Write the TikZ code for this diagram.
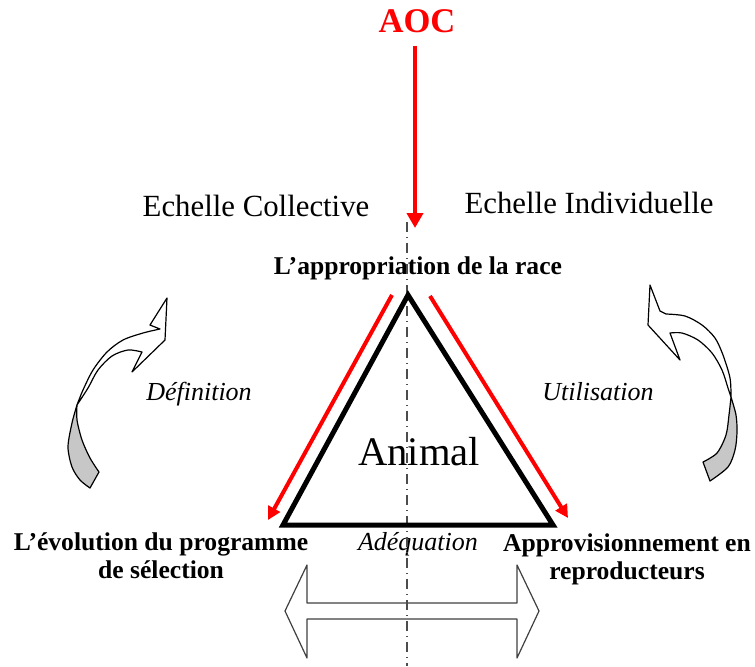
\documentclass[tikz,border=0pt]{standalone}
\usepackage{fontspec}
\setmainfont{Liberation Serif}
\usetikzlibrary{arrows.meta}

\begin{document}
\begin{tikzpicture}[x=0.5pt,y=-0.5pt]
	\useasboundingbox (0,0) rectangle (755,666);
	\begin{scope}[color=black]
		\tikzstyle{every node}=[inner sep=0pt,anchor=base,align=center]
		\tikzstyle{gras}=[font=\fontsize{12.8}{14}\selectfont\bfseries]
		\tikzstyle{echelle}=[font=\fontsize{15.4}{18}\selectfont]
		\tikzstyle{flux}=[font=\fontsize{13}{15}\selectfont\itshape]
		\tikzstyle{rouge}=[draw=red,line width=2pt,-{Triangle[length=6.5pt,width=6.5pt]}]
		\tikzstyle{face}=[draw=black,fill=white,line width=0.6pt,line join=round]
		\tikzstyle{dos}=[draw=black,fill=black!22,line width=0.6pt,line join=round]
		% sommets et points
		\coordinate (haut) at (408,295);
		\coordinate (gauche) at (283,525);
		\coordinate (droite) at (553,525);
		\coordinate (pointe) at (415,228);
		\coordinate (r1) at (392,295);
		\coordinate (r1b) at (268,520);
		\coordinate (r2) at (430,296);
		\coordinate (r2b) at (568,518);
		\coordinate (axe) at (407,222);
		\coordinate (axebas) at (407,666);
		% textes
		\node[font=\fontsize{17.3}{20}\selectfont\bfseries,text=red] (aoc) at (417,32) {AOC};
		\node[echelle] (coll) at (256,216) {Echelle Collective};
		\node[echelle] (indiv) at (589,213) {Echelle Individuelle};
		\node[gras] (race) at (418,274) {L'appropriation de la race};
		\node[font=\fontsize{20.3}{24}\selectfont] (animal) at (419,465) {Animal};
		\foreach \t/\x/\n in {Définition/199/def,Utilisation/598/util}
		{\node[flux] (\n) at (\x,400) {\t};}
		\node[flux] (adeq) at (418,550) {Adéquation};
		\node[gras] (evol) at (161,578) {L'évolution du programme\\de sélection};
		\node[gras] (appro) at (627,579) {Approvisionnement en\\reproducteurs};
		% fleches courbes
		\filldraw[dos] plot[smooth] coordinates {(90,488) (80,480) (72,467) (68,447) (72,423) (77,405)}
			-- plot[smooth] coordinates {(77,405) (77,420) (82,440) (90,458) (99,472)} -- cycle;
		\filldraw[face] plot[smooth] coordinates {(77,405) (83,390) (93,370) (107,352) (123,340) (143,333) (160,329)}
			-- (150,325) -- (167,298) -- (165,340) -- (132,372) -- (142,352)
			-- plot[smooth] coordinates {(142,352) (128,350) (112,356) (98,370) (88,388) (77,405)} -- cycle;
		\filldraw[dos] plot[smooth] coordinates {(710,481) (728,467) (735,450) (737,432) (736,415) (731,397)}
			-- plot[smooth] coordinates {(731,397) (729,415) (726,435) (717,453) (703,462)} -- cycle;
		\filldraw[face] plot[smooth] coordinates {(731,397) (730,378) (723,355) (715,338) (702,325) (685,316) (666,314)}
			-- (660,311) -- (650,285) -- (648,325) -- (680,360) -- (670,333)
			-- plot[smooth] coordinates {(670,333) (682,333) (698,340) (712,353) (722,370) (728,388) (731,397)} -- cycle;
		% double fleche
		\draw[face,draw=black!75] (285,611) -- (307,565) -- (307,603) -- (517,603) -- (517,565)
			-- (539,611) -- (517,658) -- (517,619) -- (307,619) -- (307,658) -- cycle;
		\draw[black!70,line width=0.7pt,dash pattern=on 5pt off 2.5pt on 0.5pt off 2.5pt] (axe) -- (axebas);
		% triangle
		\draw[line width=2.5pt,line join=miter] (haut) -- (gauche) -- (droite) -- cycle;
		\draw[rouge,-{Triangle[length=7.5pt,width=8pt]},shorten <=6.5pt] (aoc.south -| pointe) -- (pointe);
		\draw[rouge] (r1) -- (r1b);
		\draw[rouge] (r2) -- (r2b);
	\end{scope}
\end{tikzpicture}
\end{document}
